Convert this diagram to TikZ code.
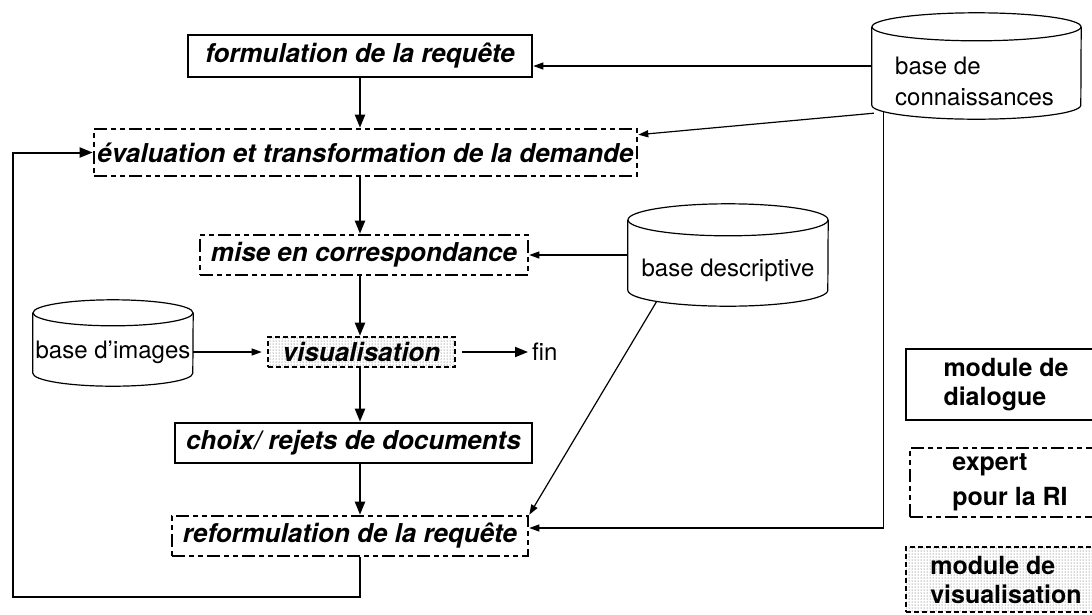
\documentclass[tikz,border=0pt]{standalone}
\usepackage{fontspec}
\setmainfont{TeX Gyre Heros}
\usetikzlibrary{arrows.meta,patterns}
\begin{document}
\begin{tikzpicture}[x=1pt,y=-1pt]
\tikzset{
 lab/.style={font=\fontsize{24}{31}\selectfont, inner sep=0pt},
 mod/.style={font=\fontsize{26}{30}\selectfont\bfseries\itshape, inner sep=0pt, line width=2.6pt},
 dlg/.style={mod, draw},
 exprt/.style={mod, draw, dash pattern=on 13pt off 4pt on 5pt off 4pt on 5pt off 4pt},
 visu/.style={mod, draw, dash pattern=on 5pt off 3pt, pattern=dots, pattern color=black!70},
 leg/.style={font=\fontsize{25}{29}\selectfont\bfseries, align=left, inner sep=0pt, line width=2.6pt, minimum width=200pt},
 flow/.style={line width=2pt, -{Triangle[length=13pt,width=10pt]}},
 link/.style={line width=1.2pt, -{Triangle[length=10pt,width=7pt]}},
 cyl/.style={line width=1.2pt},
 cylbody/.style={inner sep=0pt},
}
\useasboundingbox (0,0) rectangle (1092,614);
\clip (0,0) rectangle (1092,614);

% cylinders
\node[cylbody, minimum width=209pt, minimum height=78pt] (kb) at (976.5,66) {};
\draw[cyl] (kb.north west) -- (kb.south west) arc[start angle=180,end angle=360,x radius=104.5pt,y radius=14pt] -- (kb.north east);
\draw[cyl] (kb.north) ellipse[x radius=104.5pt, y radius=14pt];
\node[lab, anchor=west, align=left] (kbt) at (895,81) {base de\\connaissances};

\node[cylbody, minimum width=200pt, minimum height=70pt] (desc) at (728,255) {};
\draw[cyl] (desc.north west) -- (desc.south west) arc[start angle=180,end angle=360,x radius=100pt,y radius=16pt] -- (desc.north east);
\draw[cyl] (desc.north) ellipse[x radius=100pt, y radius=16pt];
\node[lab] (desct) at (728,270) {base descriptive};

\node[cylbody, minimum width=160pt, minimum height=60pt] (img) at (113,343) {};
\draw[cyl] (img.north west) -- (img.south west) arc[start angle=180,end angle=360,x radius=80pt,y radius=13pt] -- (img.north east);
\draw[cyl] (img.north) ellipse[x radius=80pt, y radius=13pt];
\node[lab] (imgt) at (113,352) {base d’images};

% process boxes
\node[dlg, minimum width=344pt, minimum height=42pt] (form) at (360,56) {formulation de la requête};
\node[exprt, minimum width=543pt, minimum height=47pt] (eval) at (365.5,152.5) {évaluation et transformation de la demande};
\node[exprt, minimum width=328pt, minimum height=40pt] (mise) at (364,255) {mise en correspondance};
\node[visu, minimum width=187pt, minimum height=30pt] (vis) at (361.5,352) {visualisation};
\node[lab, anchor=west] (fin) at (532,352) {fin};
\node[dlg, minimum width=357pt, minimum height=40pt] (choix) at (353.5,443) {choix/ rejets de documents};
\node[exprt, minimum width=356pt, minimum height=40pt] (reform) at (350,536) {reformulation de la requête};

% legend
\node[leg, draw, minimum height=71pt] (lg1) at (1006,384.5) {module de\\dialogue};
\node[leg, draw, dash pattern=on 13pt off 4pt on 5pt off 4pt on 5pt off 4pt, minimum height=69pt] (lg2) at (1010,482.5) {expert\\[6pt]pour la RI};
\node[leg, draw, dash pattern=on 5pt off 3pt, pattern=dots, pattern color=black!70, minimum height=65pt] (lg3) at (1006,579.5) {module de\\visualisation};

% main flow
\coordinate (ax) at (360,0);
\draw[flow] (form.south) -- (ax |- eval.north);
\draw[flow] (ax |- eval.south) -- (ax |- mise.north);
\draw[flow] (ax |- mise.south) -- (ax |- vis.north);
\draw[flow] (ax |- vis.south) -- (ax |- choix.north);
\draw[flow] (ax |- choix.south) -- (ax |- reform.north);
\draw[flow, shorten >=4pt] ([xshift=6pt]vis.east) -- (fin.west);
\coordinate (lb) at (13,597);
\draw[flow] (ax |- reform.south) -- (ax |- lb) -- (lb) -- (lb |- eval.west) -- (eval.west);

% knowledge links
\draw[link] (kb.west) -- (kb.west -| form.east);
\draw[link] ([xshift=2pt,yshift=-8pt]kb.south west) -- ([yshift=-7pt]eval.north east);
\coordinate (kbv) at ([xshift=12pt,yshift=-7pt]kb.south west);
\coordinate (rf) at ([yshift=8pt]reform.east);
\draw[link] (kbv) -- (kbv |- rf) -- (rf);
\draw[link] (desc.west) -- (desc.west -| mise.east);
\draw[link] ([xshift=29pt,yshift=-11pt]desc.south west) -- (reform.north east);
\draw[link, shorten >=5pt] (vis.west -| img.east) -- (vis.west);
\end{tikzpicture}
\end{document}
